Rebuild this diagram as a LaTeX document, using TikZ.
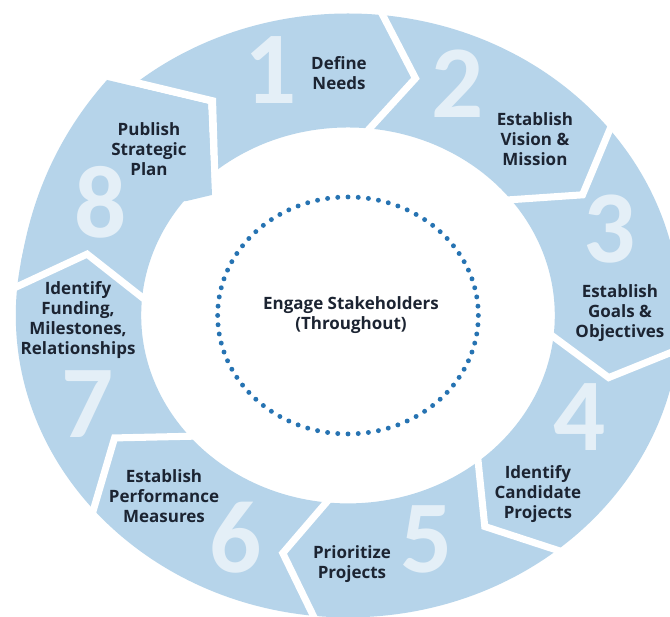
\documentclass[tikz,border=0pt]{standalone}
\usepackage{fontspec}
\usetikzlibrary{calc}
\newfontfamily\labfont{Open Sans}
\newfontfamily\digfont{Carlito}
\definecolor{ringblue}{RGB}{182,212,234}
\definecolor{digcol}{RGB}{228,239,247}
\definecolor{txtcol}{RGB}{28,36,50}
\definecolor{dotblue}{RGB}{38,115,178}
\begin{document}
\begin{tikzpicture}[x=0.033cm, y=0.03cm,
  lab/.style={font=\labfont\bfseries\fontsize{14.5}{17}\selectfont, text=txtcol, align=center, inner sep=0pt},
  dig/.style={font=\digfont\bfseries\fontsize{88}{88}\selectfont, text=digcol, inner sep=0pt},
  gap/.style={draw=white, line width=6pt, line join=miter},
  px/.style={x=0.03cm, y=-0.03cm, shift={(-10.44cm,9.465cm)}}]
\useasboundingbox (-316.36,-301.5) rectangle (292.73,315.5);
\fill[white] (-316.36,-301.5) rectangle (292.73,315.5);
\clip (-316.36,-301.5) rectangle (292.73,315.5);
% pixel-space coordinates
\begin{scope}[px]
  \coordinate (B8) at (107,80);
  \coordinate (C8) at (208,104);
  \coordinate (T8) at (212,195);
  \coordinate (S1i) at (219,197);
  \coordinate (S1c) at (216,98);
  \coordinate (S1o) at (124,76);
\end{scope}
% ring
\fill[ringblue, even odd rule] (0,0) circle [radius=302] (0,0) circle [radius=188];
% gap between 8 and 1
\fill[white] (B8) -- (C8) -- (T8) -- (S1i) -- (S1c) -- (S1o) -- cycle;
% arrow head of 8
\fill[ringblue] plot[domain=170:133.5, samples=40] (\x:{302+19.6*((170-\x)/37)*sqrt((170-\x)/37)})
  -- (B8) -- (C8) -- (T8) -- (142:186) -- (155:250) -- cycle;
% chevron dividers
\foreach \t/\p in {84/75.5, 38/29.5, -6.5/-14.7, -51/-59.5, -96/-104, -140/-150, -185.5/-194.5} {
  \draw[gap] ($(\p:245)!1.25!(\t:302)$) -- (\p:245) -- ($(\p:245)!1.45!(\t:188)$);
}
% dotted circle
\foreach \a in {0,4.5,...,355.5} {
  \fill[dotblue] (\a:118.5) circle [radius=2.1pt];
}
\begin{scope}[px]
  \node[dig] (d1) at (271,70) {1};
  \node[dig] (d2) at (458,84) {2};
  \node[dig] (d3) at (610,229) {3};
  \node[dig] (d4) at (580,417) {4};
  \node[dig] (d5) at (427,540) {5};
  \node[dig] (d6) at (236,538) {6};
  \node[dig] (d7) at (88,404) {7};
  \node[dig] (d8) at (101,202) {8};
  \node[lab] (l1) at (339,73) {Define\\Needs};
  \node[lab] (l2) at (535,139) {Establish\\Vision \&\\Mission};
  \node[lab] (l3) at (620,313) {Establish\\Goals \&\\Objectives};
  \node[lab] (l4) at (538,494) {Identify\\Candidate\\Projects};
  \node[lab] (l5) at (352,564) {Prioritize\\Projects};
  \node[lab] (l6) at (164,496) {Establish\\Performance\\Measures};
  \node[lab] (l7) at (78,320) {Identify\\Funding,\\Milestones,\\Relationships};
  \node[lab] (l8) at (149,149) {Publish\\Strategic\\Plan};
  \node[lab] (c) at (351,315) {Engage Stakeholders\\(Throughout)};
\end{scope}
\end{tikzpicture}
\end{document}
